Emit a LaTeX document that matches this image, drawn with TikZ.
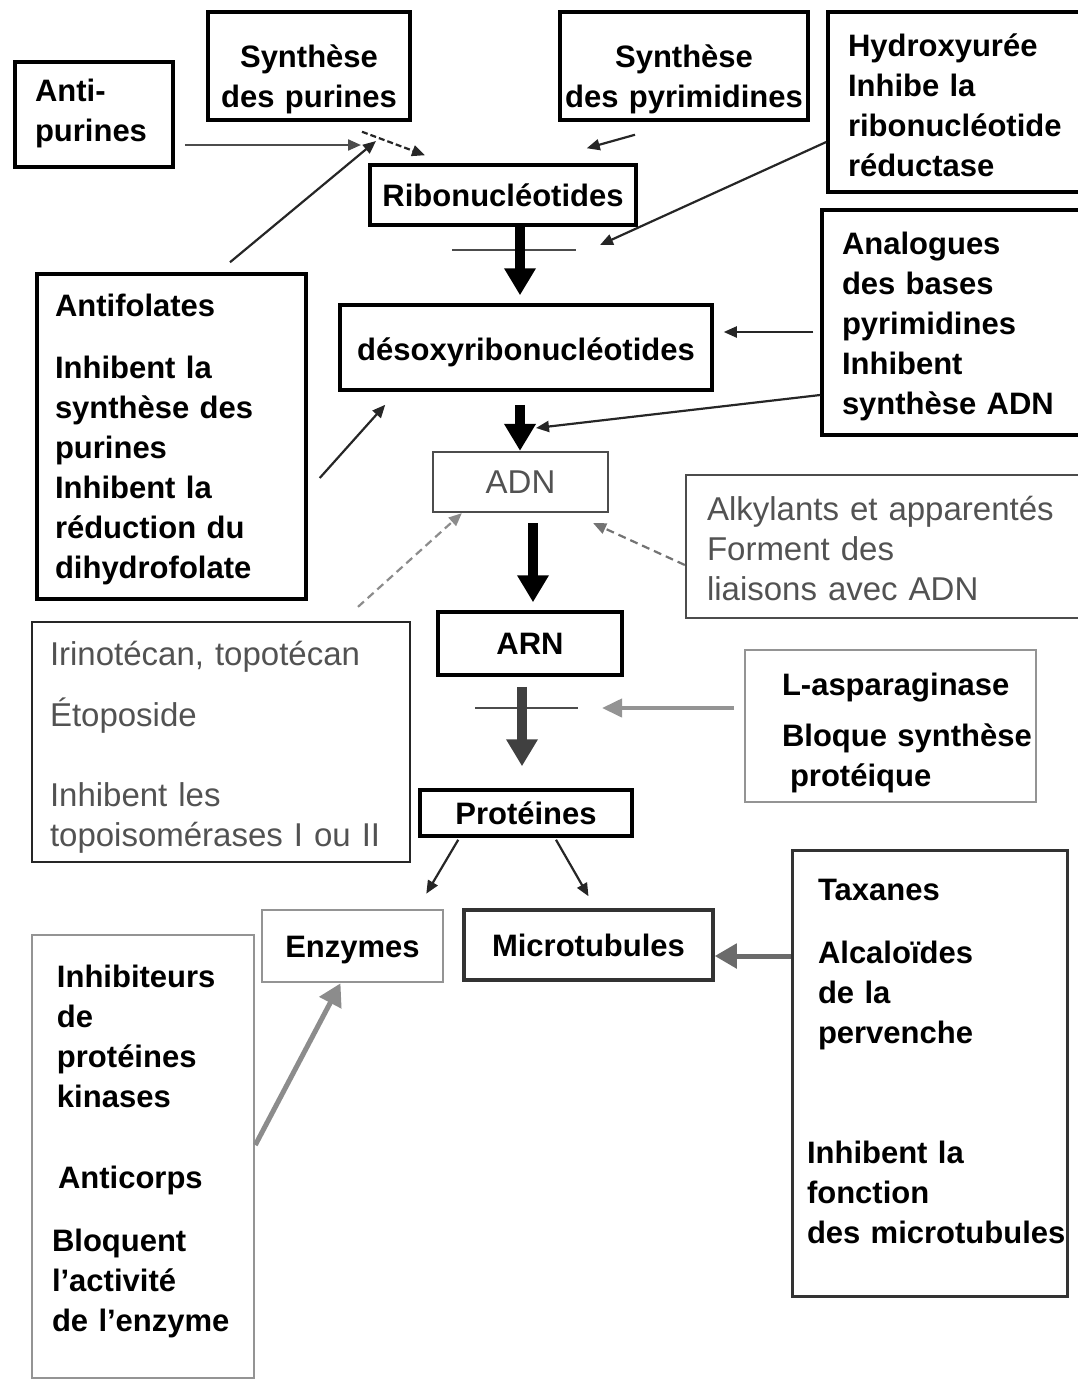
\documentclass[tikz,border=0pt]{standalone}
\usepackage{fontspec}
\setmainfont{Liberation Sans}
\usetikzlibrary{arrows.meta,calc}
\newcommand{\boldtext}{\fontsize{31}{40}\selectfont\bfseries}
\newcommand{\plaintext}{\fontsize{33}{40}\selectfont}
\newcommand{\lineup}[1]{\rule{0pt}{#1pt}}
\newcommand{\linedown}[1]{\rule[-#1pt]{0pt}{#1pt}}
\begin{document}
\begin{tikzpicture}[x=1pt, y=-1pt,
    box/.style={draw, line width=3.5pt, inner sep=0pt, font=\boldtext},
    panel/.style={box, align=left, inner xsep=20pt},
    thinbox/.style={draw=black!70, line width=2.3pt, inner sep=0pt, text=black!68, font=\plaintext},
    palebox/.style={draw=black!42, line width=2.6pt},
    mainflow/.style={line width=10pt, -{Triangle[length=27pt,width=30pt]}},
    thinarr/.style={line width=2.2pt, black!85, -{Triangle[length=13pt,width=11pt]}},
    dasharr/.style={thinarr, black!45, dash pattern=on 8pt off 5pt},
    grayarr/.style={line width=5pt, -{Triangle[length=22pt,width=24pt]}},
    blockbar/.style={line width=2pt, black!70}]
    \useasboundingbox (0,0) rectangle (1078,1382);
    % Top row
    \node[panel, text width=118pt, minimum height=105pt] (antipur) at (94,114.5)
        {\lineup{24}Anti-\\purines\linedown{10}};
    \node[box, align=center, text width=202pt, minimum height=108pt] (synpur) at (309,66)
        {\lineup{49}Synthèse\\des purines\linedown{7}};
    \node[box, align=center, text width=248pt, minimum height=108pt] (synpyr) at (684,66)
        {\lineup{49}Synthèse\\des pyrimidines\linedown{7}};
    \node[panel, text width=220pt, minimum height=180pt] (hydroxy) at (958,102)
        {\lineup{35}Hydroxyurée\\Inhibe la\\ribonucléotide\\réductase\linedown{7}};
    % Main chain
    \node[box, minimum width=266pt, minimum height=60pt] (ribo) at (503,195) {Ribonucléotides};
    \node[box, minimum width=372pt, minimum height=85pt] (desoxy) at (526,347.5) {\lineup{33}désoxyribonucléotides};
    \node[thinbox, minimum width=175pt, minimum height=60pt] (adn) at (520.5,482) {ADN};
    \node[box, minimum width=184pt, minimum height=63pt] (arn) at (530,643.5) {ARN};
    \node[box, minimum width=212pt, minimum height=46pt] (prot) at (526,813) {Protéines};
    \node[box, palebox, minimum width=181pt, minimum height=72pt] (enzymes) at (352.5,946) {\lineup{30}Enzymes};
    \node[box, draw=black!80, minimum width=249pt, minimum height=70pt] (micro) at (588.5,945) {Microtubules};
    % Drug boxes
    \node[panel, text width=220pt, minimum height=225pt] (analog) at (952,322.5)
        {\lineup{30}Analogues\\des bases\\pyrimidines\\Inhibent\\synthèse ADN\linedown{7}};
    \node[panel, inner xsep=18pt, text width=233pt, minimum height=323pt] (antifol) at (171.5,436.5)
        {\lineup{42}Antifolates\\[22pt]Inhibent la\\synthèse des\\purines\\Inhibent la\\réduction du\\dihydrofolate\linedown{21}};
    \node[thinbox, align=left, inner xsep=21pt, text width=354pt, minimum height=143pt] (alkyl) at (884,546.5)
        {\lineup{34}Alkylants et apparentés\\Forment des\\liaisons avec ADN\linedown{7}};
    \node[thinbox, draw=black!85, align=left, inner xsep=18pt, text width=342pt, minimum height=240pt] (irino) at (221,742)
        {\lineup{34}Irinotécan, topotécan\\[21pt]Étoposide\\[40pt]Inhibent les\\topoisomérases I ou II\linedown{7}};
    \node[panel, palebox, line width=2pt, inner xsep=0pt, text width=291pt, minimum height=152pt] (lasp) at (890.5,726)
        {\lineup{36}\hspace*{37pt}L-asparaginase\\[11pt]\hspace*{37pt}\mbox{Bloque synthèse}\\\hspace*{45pt}protéique\linedown{7}};
    \node[panel, draw=black!80, line width=3pt, inner xsep=0pt, text width=275pt, minimum height=446pt] (taxanes) at (929.5,1073)
        {\lineup{24}\hspace*{26pt}Taxanes\\[23pt]\hspace*{26pt}Alcaloïdes\\\hspace*{26pt}de la\\\hspace*{26pt}pervenche\\[80pt]\hspace*{15pt}Inhibent la\\\hspace*{15pt}fonction\\\hspace*{15pt}\mbox{des microtubules}\linedown{27}};
    \node[panel, palebox, text width=182pt, minimum height=443pt] (inhib) at (143,1156.5)
        {\lineup{24}\hspace*{5pt}Inhibiteurs\\\hspace*{5pt}de\\\hspace*{5pt}protéines\\\hspace*{5pt}kinases\\[41pt]\hspace*{6pt}Anticorps\\[23pt]Bloquent\\l'activité\\de l'enzyme\linedown{19}};
    % Free ends
    \coordinate (purhitA) at (361,145);
    \coordinate (purhitB) at (376,141);
    \coordinate (ribocutL) at (452,250);
    \coordinate (ribocutR) at (576,250);
    \coordinate (ribohit) at (600,245);
    \coordinate (adnhit) at (536,428);
    \coordinate (arncutL) at (475,708);
    \coordinate (arncutR) at (578,708);
    \coordinate (arnhit) at (602,708);
    % Purine and pyrimidine inputs
    \draw[thinarr, black!70, shorten <=10pt] (antipur.east |- purhitA) -- (purhitA);
    \draw[thinarr, dash pattern=on 6pt off 3pt] ($(synpur.south)+(53,10)$) -- ($(ribo.north)+(-78,-8)$);
    \draw[thinarr] ($(antifol.north)+(58.5,-10)$) -- (purhitB);
    \draw[thinarr] ($(synpyr.south)+(-49,13)$) -- ($(ribo.north east)+(-51,-15)$);
    % Ribo to desoxy
    \draw[blockbar] (ribocutL) -- (ribocutR);
    \draw[mainflow] ($(ribo.south)+(17,0)$) -- ($(desoxy.north)+(-6,-8)$);
    \draw[thinarr] ($(hydroxy.west)+(0,40)$) -- (ribohit);
    \draw[thinarr] ($(analog.west)+(-7,9.5)$) -- ($(desoxy.east)+(10,-15.5)$);
    % Desoxy to ADN
    \draw[mainflow] ($(desoxy.south)+(-6,13)$) -- ($(adn.north)+(-0.5,0)$);
    \draw[thinarr] ($(analog.west)+(0,72.5)$) -- (adnhit);
    \draw[thinarr] ($(antifol.east)+(12,41.5)$) -- ($(desoxy.south west)+(47,13)$);
    \draw[dasharr] ($(irino.north)+(137,-14)$) -- ($(adn.south west)+(30,0)$);
    \draw[dasharr, black!55] ($(alkyl.west)+(0,18.5)$) -- ($(adn.south east)+(-16,10)$);
    % ADN to ARN to proteins
    \draw[mainflow] ($(adn.south)+(12.5,10)$) -- ($(arn.north)+(3,-8)$);
    \draw[blockbar] (arncutL) -- (arncutR);
    \draw[mainflow, black!75] ($(arn.south)+(-8,10)$) -- ($(prot.north)+(-4,-22)$);
    \draw[line width=4pt, black!42, -{Triangle[length=20pt,width=18pt]}] ($(lasp.west)+(-10,-18)$) -- (arnhit);
    % Proteins to targets
    \draw[thinarr] ($(prot.south west)+(40,2)$) -- ($(enzymes.north east)+(-18,-15)$);
    \draw[thinarr] ($(prot.south)+(30,2)$) -- ($(micro.north)+(0,-12)$);
    \draw[grayarr, black!58] ($(taxanes.west)+(0,-117)$) -- ($(micro.east)+(0,11)$);
    \draw[grayarr, black!45] ($(inhib.east)+(0,-11.5)$) -- ($(enzymes.south)+(-12,0)$);
\end{tikzpicture}
\end{document}
